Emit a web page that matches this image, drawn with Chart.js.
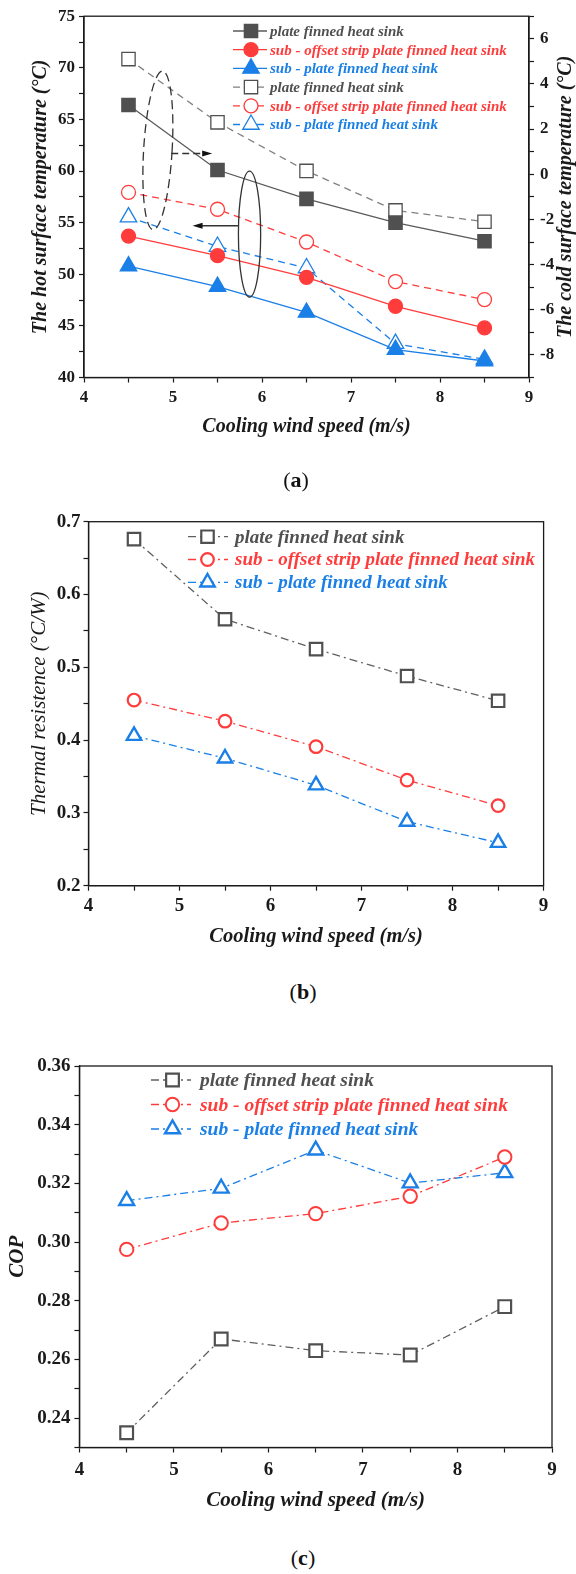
<!DOCTYPE html>
<html>
<head>
<meta charset="utf-8">
<script src="https://cdn.jsdelivr.net/npm/chart.js@4.4.1/dist/chart.umd.min.js"></script>
<style>
  body { margin: 0; background: #fff; width: 576px; height: 1574px; position: relative; overflow: hidden; }
  canvas { position: absolute; left: 0; }
  .cap { position: absolute; width: 60px; text-align: center; font: 22px 'Liberation Serif', serif; color: #111; line-height: 22px; }
</style>
</head>
<body>
<canvas id="chartA" width="576" height="445" style="top:0"></canvas>
<canvas id="chartB" width="576" height="470" style="top:490px"></canvas>
<canvas id="chartC" width="576" height="500" style="top:1030px"></canvas>
<div class="cap" style="left:266px;top:469px">(<b>a</b>)</div>
<div class="cap" style="left:273px;top:981px">(<b>b</b>)</div>
<div class="cap" style="left:273px;top:1547px">(<b>c</b>)</div>
<script>
const speed = [4.5, 5.5, 6.5, 7.5, 8.5];

// (a) hot surface, left axis
const hotPlate  = [66.4, 60.1, 57.3, 55.0, 53.2];
const hotOffset = [53.7, 51.8, 49.7, 46.9, 44.8];
const hotSub    = [50.8, 48.8, 46.3, 42.7, 41.6];
// (a) cold surface, right axis
const coldPlate  = [5.1, 2.3, 0.15, -1.6, -2.1];
const coldOffset = [-0.8, -1.55, -3.0, -4.75, -5.55];
const coldSub    = [-1.9, -3.2, -4.15, -7.5, -8.2];
// (b) thermal resistance
const resPlate  = [0.676, 0.566, 0.525, 0.488, 0.454];
const resOffset = [0.455, 0.426, 0.391, 0.345, 0.310];
const resSub    = [0.406, 0.375, 0.338, 0.288, 0.259];
// (c) COP
const copPlate  = [0.235, 0.267, 0.263, 0.2615, 0.278];
const copOffset = [0.2975, 0.3065, 0.3097, 0.3156, 0.329];
const copSub    = [0.3141, 0.3183, 0.3313, 0.3201, 0.3236];

const names = ['plate finned heat sink', 'sub - offset strip plate finned heat sink', 'sub - plate finned heat sink'];

// labelled ticks (the others are minor ticks)
const xLabels = [4, 5, 6, 7, 8, 9];
const hotLabels = [40, 45, 50, 55, 60, 65, 70, 75];
const coldLabels = [-8, -6, -4, -2, 0, 2, 4, 6];
const resLabels = [0.2, 0.3, 0.4, 0.5, 0.6, 0.7];
const copLabels = [0.24, 0.26, 0.28, 0.30, 0.32, 0.34, 0.36];

const SERIF = 'Liberation Serif';
const INK = '#1a1a1a';
const GRAY = '#505050', RED = '#ff3c3c', BLUE = '#1a7fe6';

const pts = ys => speed.map((x, i) => ({x, y: ys[i]}));
const near = (list, v) => list.find(t => Math.abs(t - v) < 1e-9);

// callouts of figure (a), in data units of x / left axis
const coldRing = {x: 4.83, y: 62.0, rx: 0.16, ry: 7.7, tilt: 0.06};
const coldArrow = {from: 4.98, to: 5.44, y: 61.7};
const hotRing = {x: 5.86, y: 53.9, rx: 0.125, ry: 6.1};
const hotArrow = {from: 5.73, to: 5.22, y: 54.7};

function axisX(o) {
  return {
    type: 'linear', min: 4, max: 9,
    ticks: {
      stepSize: 0.5, autoSkip: false, maxRotation: 0, padding: o.pad, color: INK,
      font: {family: SERIF, size: o.size, weight: 'bold'},
      callback: v => xLabels.includes(v) ? String(v) : ''
    },
    grid: {drawOnChartArea: false, tickLength: 5, color: INK, tickWidth: 1.2},
    border: {color: INK, width: 1.3},
    title: {
      display: true, text: 'Cooling wind speed (m/s)', color: INK,
      font: {family: SERIF, size: o.titleSize, weight: 'bold', style: 'italic'},
      padding: {top: 0, bottom: o.titlePad}
    },
    afterFit: s => { s.height = o.height; }
  };
}

function axisY(o) {
  return {
    type: 'linear', position: o.position || 'left', min: o.min, max: o.max,
    ticks: {
      stepSize: o.step, autoSkip: false, padding: o.pad, color: INK,
      font: {family: SERIF, size: o.size, weight: 'bold'},
      callback: o.label
    },
    grid: {drawOnChartArea: false, tickLength: 5, color: INK, tickWidth: 1.2},
    border: {color: INK, width: 1.3},
    title: o.title ? {
      display: true, text: o.title, color: INK,
      font: {family: SERIF, size: o.titleSize, weight: o.titleWeight || 'bold', style: 'italic'},
      padding: {top: o.titlePad, bottom: 0}
    } : {display: false},
    afterFit: s => { s.width = o.width; }
  };
}

function series(label, ys, color, style, radius, filled, opts) {
  return Object.assign({
    label: label,
    data: pts(ys),
    textColor: color,
    borderColor: color,
    borderWidth: 1.3,
    pointStyle: style,
    pointRadius: radius,
    pointHoverRadius: radius,
    pointBorderWidth: 1.3,
    pointBorderColor: color,
    pointBackgroundColor: filled ? color : '#fff',
    tension: 0,
    fill: false
  }, opts || {});
}

const frame = {
  id: 'frame',
  afterDraw(chart) {
    const {ctx, chartArea: a} = chart;
    ctx.save();
    ctx.strokeStyle = INK;
    ctx.lineWidth = 1.3;
    ctx.strokeRect(a.left, a.top, a.right - a.left, a.bottom - a.top);
    ctx.restore();
  }
};

// legend drawn inside the plot, one row per dataset
const keyBox = {
  id: 'keyBox',
  afterDraw(chart, args, o) {
    const ctx = chart.ctx;
    chart.data.datasets.forEach((ds, i) => {
      const y = o.y + i * o.gap;
      ctx.save();
      ctx.strokeStyle = ds.borderColor;
      ctx.lineWidth = ds.borderWidth;
      ctx.setLineDash(ds.borderDash || []);
      ctx.beginPath();
      ctx.moveTo(o.x, y);
      ctx.lineTo(o.x + o.lineLen, y);
      ctx.stroke();
      ctx.setLineDash([]);
      ctx.fillStyle = ds.pointBackgroundColor;
      ctx.strokeStyle = ds.pointBorderColor;
      ctx.lineWidth = ds.pointBorderWidth;
      Chart.helpers.drawPoint(ctx, {pointStyle: ds.pointStyle, radius: ds.pointRadius, rotation: 0, borderWidth: ds.pointBorderWidth}, o.x + o.markAt, y);
      ctx.font = 'italic bold ' + o.size + 'px "' + SERIF + '"';
      ctx.fillStyle = ds.textColor;
      ctx.textBaseline = 'middle';
      ctx.fillText(ds.label, o.textX, y + 1);
      ctx.restore();
    });
  }
};

const callouts = {
  id: 'callouts',
  afterDatasetsDraw(chart) {
    const {ctx, chartArea: a, scales: {x, y}} = chart;
    const px = v => x.getPixelForValue(v), py = v => y.getPixelForValue(v);
    const arrow = (c, dash) => {
      const x1 = px(c.from), x2 = px(c.to), yy = py(c.y), dir = Math.sign(x2 - x1);
      ctx.setLineDash(dash);
      ctx.beginPath(); ctx.moveTo(x1, yy); ctx.lineTo(x2 - dir * 6, yy); ctx.stroke();
      ctx.setLineDash([]);
      ctx.beginPath(); ctx.moveTo(x2, yy); ctx.lineTo(x2 - dir * 10, yy - 3); ctx.lineTo(x2 - dir * 10, yy + 3); ctx.closePath(); ctx.fill();
    };
    ctx.save();
    ctx.strokeStyle = '#333';
    ctx.fillStyle = '#111';
    ctx.lineWidth = 1.3;
    ctx.setLineDash([9, 5]);
    ctx.beginPath();
    ctx.ellipse(px(coldRing.x), py(coldRing.y), px(coldRing.x + coldRing.rx) - px(coldRing.x),
      py(coldRing.y - coldRing.ry) - py(coldRing.y), coldRing.tilt, 0, Math.PI * 2);
    ctx.stroke();
    arrow(coldArrow, [7, 4]);
    ctx.beginPath();
    ctx.ellipse(px(hotRing.x), py(hotRing.y), px(hotRing.x + hotRing.rx) - px(hotRing.x),
      py(hotRing.y - hotRing.ry) - py(hotRing.y), 0, 0, Math.PI * 2);
    ctx.stroke();
    arrow(hotArrow, []);
    // right axis title, reading bottom to top
    ctx.fillStyle = INK;
    ctx.font = 'italic bold 20px "' + SERIF + '"';
    ctx.textAlign = 'center';
    ctx.textBaseline = 'middle';
    ctx.translate(566, (a.top + a.bottom) / 2);
    ctx.rotate(-Math.PI / 2);
    ctx.fillText('The cold surface temperature (°C)', 0, 0);
    ctx.restore();
  }
};

const dashed = [7, 5];
const dashDot = [8, 4, 2, 4];

new Chart(document.getElementById('chartA'), {
  type: 'line',
  data: {
    datasets: [
      series(names[0], hotPlate, GRAY, 'rect', 9.4, true, {borderColor: '#5a5a5a', yAxisID: 'y'}),
      series(names[1], hotOffset, RED, 'circle', 7, true, {yAxisID: 'y'}),
      series(names[2], hotSub, BLUE, 'triangle', 9.5, true, {yAxisID: 'y'}),
      series(names[0], coldPlate, GRAY, 'rect', 9.4, false, {borderColor: '#808080', borderDash: dashed, yAxisID: 'y2'}),
      series(names[1], coldOffset, RED, 'circle', 7, false, {borderDash: dashed, yAxisID: 'y2'}),
      series(names[2], coldSub, BLUE, 'triangle', 9.5, false, {borderDash: dashed, yAxisID: 'y2'})
    ]
  },
  options: {
    responsive: false,
    animation: false,
    layout: {padding: {top: 16, right: 0, left: 0, bottom: 0}},
    plugins: {
      legend: {display: false},
      tooltip: {enabled: false},
      keyBox: {x: 233, lineLen: 34, markAt: 18, textX: 270, y: 31, gap: 18.7, size: 15}
    },
    scales: {
      x: axisX({pad: 5, size: 17, titleSize: 20, titlePad: 6, height: 67.5}),
      y: axisY({min: 40, max: 75, step: 2.5, pad: 4, size: 17, width: 84,
        label: v => hotLabels.includes(v) ? String(v) : '',
        title: 'The hot surface temperature (°C)', titleSize: 20, titlePad: 29}),
      y2: axisY({position: 'right', min: -9, max: 7, step: 1, pad: 6, size: 17, width: 47,
        label: v => coldLabels.includes(v) ? String(v) : ''})
    }
  },
  plugins: [frame, keyBox, callouts]
});

new Chart(document.getElementById('chartB'), {
  type: 'line',
  data: {
    datasets: [
      series(names[0], resPlate, GRAY, 'rect', 8.8, false, {borderDash: dashDot, pointBorderWidth: 2.2, borderColor: '#606060'}),
      series(names[1], resOffset, RED, 'circle', 6.3, false, {borderDash: dashDot, pointBorderWidth: 2.2}),
      series(names[2], resSub, BLUE, 'triangle', 8.3, false, {borderDash: dashDot, pointBorderWidth: 2.4})
    ]
  },
  options: {
    responsive: false,
    animation: false,
    layout: {padding: {top: 31.7, right: 32.4, left: 0, bottom: 0}},
    plugins: {
      legend: {display: false},
      tooltip: {enabled: false},
      keyBox: {x: 188, lineLen: 40, markAt: 19.5, textX: 235, y: 46.7, gap: 22.8, size: 19}
    },
    scales: {
      x: axisX({pad: 4, size: 19, titleSize: 20.5, titlePad: 10.7, height: 74.3}),
      y: axisY({min: 0.2, max: 0.7, step: 0.05, pad: 3, size: 19, width: 88.5,
        label: v => near(resLabels, v) !== undefined ? v.toFixed(1) : '',
        title: 'Thermal resistence (°C/W)', titleSize: 21, titleWeight: 'normal', titlePad: 26.4})
    }
  },
  plugins: [frame, keyBox]
});

new Chart(document.getElementById('chartC'), {
  type: 'line',
  data: {
    datasets: [
      series(names[0], copPlate, GRAY, 'rect', 9, false, {borderDash: dashDot, pointBorderWidth: 2.2, borderColor: '#606060'}),
      series(names[1], copOffset, RED, 'circle', 6.7, false, {borderDash: dashDot, pointBorderWidth: 2}),
      series(names[2], copSub, BLUE, 'triangle', 8.6, false, {borderDash: dashDot, pointBorderWidth: 2.4})
    ]
  },
  options: {
    responsive: false,
    animation: false,
    layout: {padding: {top: 36, right: 24, left: 0, bottom: 0}},
    plugins: {
      legend: {display: false},
      tooltip: {enabled: false},
      keyBox: {x: 151, lineLen: 40, markAt: 21.5, textX: 200, y: 50, gap: 24.5, size: 19.5}
    },
    scales: {
      x: axisX({pad: 6, size: 19, titleSize: 21, titlePad: 17, height: 82.5}),
      y: axisY({min: 0.23, max: 0.36, step: 0.01, pad: 4, size: 19, width: 79.4,
        label: v => near(copLabels, v) !== undefined ? v.toFixed(2) : '',
        title: 'COP', titleSize: 21, titlePad: 5.4})
    }
  },
  plugins: [frame, keyBox]
});
</script>
</body>
</html>
